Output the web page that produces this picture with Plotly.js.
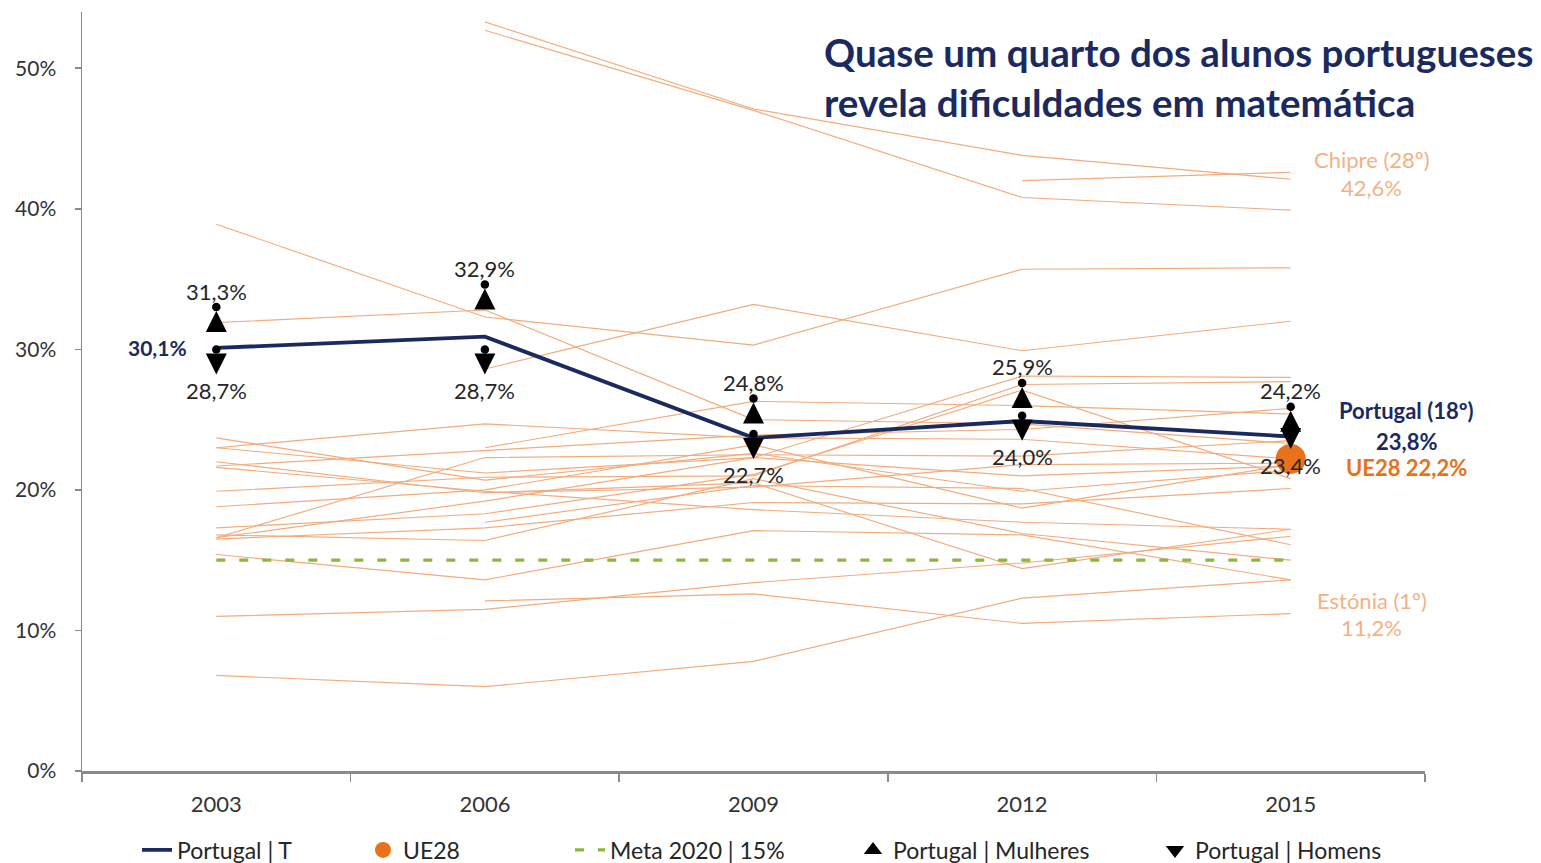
<!DOCTYPE html>
<html><head><meta charset="utf-8">
<script src="https://cdn.plot.ly/plotly-3.0.1.min.js"></script>
<style>html,body{margin:0;padding:0;background:#fff;} #chart{width:1541px;height:863px;}</style>
</head><body><div id="chart"></div>
<script>
// ---- data (% of students below level 2 in mathematics) ----
const years = ['2003','2006','2009','2012','2015'];

const austria     = [18.8, 20.0, 23.2, 18.7, 21.8];
const belgium     = [16.5, 17.3, 19.1, 19.0, 20.1];
const bulgaria    = [null, 53.3, 47.1, 43.8, 42.1];
const croatia     = [null, 28.6, 33.2, 29.9, 32.0];
const cyprus      = [null, null, null, 42.0, 42.6];
const czechia     = [16.6, 19.2, 22.3, 21.0, 21.7];
const denmark     = [15.4, 13.6, 17.1, 16.8, 13.6];
const estonia     = [null, 12.1, 12.6, 10.5, 11.2];
const finland     = [6.8, 6.0, 7.8, 12.3, 13.6];
const france      = [16.6, 22.3, 22.5, 22.4, 23.5];
const germany     = [21.6, 19.9, 18.6, 17.7, 17.2];
const greece      = [38.9, 32.3, 30.3, 35.7, 35.8];
const hungary     = [23.0, 21.2, 22.3, 28.1, 28.0];
const ireland     = [16.8, 16.4, 20.8, 16.9, 15.0];
const italy       = [31.9, 32.8, 25.0, 24.7, 23.3];
const latvia      = [23.7, 20.7, 22.6, 19.9, 21.4];
const lithuania   = [null, 23.0, 26.3, 26.0, 25.4];
const luxembourg  = [21.7, 22.8, 23.9, 24.3, 25.8];
const netherlands = [11.0, 11.5, 13.4, 14.8, 16.7];
const poland      = [22.0, 19.8, 20.5, 14.4, 17.2];
const romania     = [null, 52.7, 47.0, 40.8, 39.9];
const slovakia    = [19.9, 20.9, 21.0, 27.5, 27.7];
const slovenia    = [null, 17.7, 20.3, 20.1, 16.1];
const spain       = [23.0, 24.7, 23.7, 23.6, 22.2];
const sweden      = [17.3, 18.3, 21.1, 27.1, 20.8];
const unitedKingdom = [null, 19.8, 20.2, 21.8, 21.9];

const portugalTotal = [30.1, 30.9, 23.7, 24.9, 23.8];
const portugalWomen = [31.3, 32.9, 24.8, 25.9, 24.2];
const portugalMen   = [28.7, 28.7, 22.7, 24.0, 23.4];
const ue28          = [null, null, null, null, 22.2];
const meta2020      = [15, 15, 15, 15, 15];

const countryNames = ['Áustria','Bélgica','Bulgária','Croácia','Chipre','Chéquia','Dinamarca','Estónia','Finlândia','França','Alemanha','Grécia','Hungria','Irlanda','Itália','Letónia','Lituânia','Luxemburgo','Países Baixos','Polónia','Roménia','Eslováquia','Eslovénia','Espanha','Suécia','Reino Unido'];
const countrySeries = [austria,belgium,bulgaria,croatia,cyprus,czechia,denmark,estonia,finland,france,germany,greece,hungary,ireland,italy,latvia,lithuania,luxembourg,netherlands,poland,romania,slovakia,slovenia,spain,sweden,unitedKingdom];

const legendLabels = ['Portugal | T','UE28','Meta 2020 | 15%','Portugal | Mulheres','Portugal | Homens'];
const titleLines = ['Quase um quarto dos alunos portugueses','revela dificuldades em matemática'];

// ---- styling ----
const FONT = 'Lato, "Open Sans", sans-serif';
const NAVY = '#1B2A5E';
const ORANGE_LINE = '#F3AB7B';
const ORANGE_LABEL = '#F4B183';
const UE_ORANGE = '#E8711A';
const GREEN = '#8CB63C';
const TXT = '#262626';
const YMAX = 54;
const PLOT_H = 863 - 12 - 92;
const PPU = PLOT_H / YMAX;
function shifted(px){ const d = px / PPU; return [-d, YMAX - d]; }
const fmt = v => v.toFixed(1).replace('.', ',') + '%';

const traces = [];
countrySeries.forEach((s, i) => {
  traces.push({x: years, y: s, name: countryNames[i], type: 'scatter', mode: 'lines',
    line: {color: ORANGE_LINE, width: 1.15}, showlegend: false, hoverinfo: 'skip', connectgaps: false});
});
traces.push({x: years, y: meta2020, name: legendLabels[2], type: 'scatter', mode: 'lines',
  line: {color: GREEN, width: 3.2, dash: '9px,14px'}, legend: 'legend3'});
traces.push({x: years, y: portugalTotal, name: legendLabels[0], type: 'scatter', mode: 'lines',
  line: {color: NAVY, width: 3.8}, legend: 'legend'});
traces.push({x: years, y: ue28, name: legendLabels[1], type: 'scatter', mode: 'markers',
  marker: {color: UE_ORANGE, size: 30}, legend: 'legend2'});
// gender markers: triangle + dot, drawn on overlay axes offset by a few pixels
traces.push({x: years, y: portugalWomen, name: legendLabels[3], type: 'scatter', mode: 'markers', yaxis: 'y2',
  marker: {symbol: 'arrow-up', size: 21, color: '#000'}, showlegend: false});
traces.push({x: years, y: portugalWomen, type: 'scatter', mode: 'markers', yaxis: 'y3', showlegend: false,
  marker: {symbol: 'circle', size: 8.5, color: '#000'}});
traces.push({x: years, y: portugalMen, name: legendLabels[4], type: 'scatter', mode: 'markers', yaxis: 'y4',
  marker: {symbol: 'arrow-down', size: 21, color: '#000'}, showlegend: false});
traces.push({x: years, y: portugalMen, type: 'scatter', mode: 'markers', yaxis: 'y5', showlegend: false,
  marker: {symbol: 'circle', size: 8.5, color: '#000'}});
// legend entries for the gender markers
traces.push({x: [null], y: [null], name: legendLabels[3], type: 'scatter', mode: 'markers',
  marker: {symbol: 'triangle-up', size: 16, color: '#000'}, legend: 'legend4'});
traces.push({x: [null], y: [null], name: legendLabels[4], type: 'scatter', mode: 'markers',
  marker: {symbol: 'triangle-down', size: 16, color: '#000'}, legend: 'legend5'});

// annotations on a category axis take the category index
const ann = [];
ann.push({xref: 'paper', yref: 'paper', x: 0.551, y: 0.947, xanchor: 'left', yanchor: 'middle', showarrow: false,
  text: '<b>' + titleLines[0] + '</b>', font: {family: FONT, size: 38.6, color: NAVY}});
ann.push({xref: 'paper', yref: 'paper', x: 0.551, y: 0.881, xanchor: 'left', yanchor: 'middle', showarrow: false,
  text: '<b>' + titleLines[1] + '</b>', font: {family: FONT, size: 38.6, color: NAVY}});
years.forEach((yr, i) => {
  ann.push({x: i, y: portugalWomen[i], xref: 'x', yref: 'y', text: fmt(portugalWomen[i]), showarrow: false,
    yshift: 40, font: {family: FONT, size: 22, color: TXT}});
  ann.push({x: i, y: portugalMen[i], xref: 'x', yref: 'y', text: fmt(portugalMen[i]), showarrow: false,
    yshift: -23, font: {family: FONT, size: 22, color: TXT}});
});
ann.push({x: 0, y: portugalTotal[0], text: '<b>' + fmt(portugalTotal[0]) + '</b>', showarrow: false,
  xanchor: 'right', xshift: -27, font: {family: FONT, size: 21, color: NAVY}});
const last = years.length - 1;
ann.push({x: last, y: portugalTotal[last], text: '<b>Portugal (18º)</b>', showarrow: false,
  xshift: 116, yshift: 26, font: {family: FONT, size: 22, color: NAVY}});
ann.push({x: last, y: portugalTotal[last], text: '<b>' + fmt(portugalTotal[last]) + '</b>', showarrow: false,
  xshift: 116, yshift: -5, font: {family: FONT, size: 22, color: NAVY}});
ann.push({x: last, y: ue28[last], text: '<b>UE28 ' + fmt(ue28[last]) + '</b>', showarrow: false,
  xshift: 116, yshift: -9, font: {family: FONT, size: 22, color: UE_ORANGE}});
ann.push({x: last, y: cyprus[last], text: 'Chipre (28º)', showarrow: false,
  xshift: 81, yshift: 13, font: {family: FONT, size: 22, color: ORANGE_LABEL}});
ann.push({x: last, y: cyprus[last], text: fmt(cyprus[last]), showarrow: false,
  xshift: 81, yshift: -15, font: {family: FONT, size: 22, color: ORANGE_LABEL}});
ann.push({x: last, y: estonia[last], text: 'Estónia (1º)', showarrow: false,
  xshift: 81, yshift: 13, font: {family: FONT, size: 22, color: ORANGE_LABEL}});
ann.push({x: last, y: estonia[last], text: fmt(estonia[last]), showarrow: false,
  xshift: 81, yshift: -14, font: {family: FONT, size: 22, color: ORANGE_LABEL}});

const legBase = {orientation: 'h', y: -0.104, yanchor: 'middle', xanchor: 'left', bgcolor: 'rgba(0,0,0,0)',
  font: {family: FONT, size: 23, color: TXT}};
const PW = 1541 - 82 - 116;
const lx = px => (px - 82) / PW;

const layout = {
  width: 1541, height: 863,
  margin: {l: 82, r: 116, t: 12, b: 92, autoexpand: false},
  paper_bgcolor: '#fff', plot_bgcolor: '#fff',
  separators: ',.',
  font: {family: FONT, color: TXT},
  showlegend: true,
  xaxis: {type: 'category', range: [-0.5, years.length - 0.5], autorange: false,
    tickson: 'boundaries', ticks: 'outside', ticklen: 8, tickwidth: 1.5, tickcolor: '#8a8a8a',
    showline: true, linewidth: 3, linecolor: '#8a8a8a', showgrid: false, zeroline: false,
    tickfont: {family: FONT, size: 22, color: '#333'}, ticklabelstandoff: 12, fixedrange: true},
  yaxis: {range: [0, YMAX], autorange: false, dtick: 10, ticksuffix: '%', ticks: 'outside', ticklen: 6, tickwidth: 1.5, tickcolor: '#8a8a8a',
    showline: true, linewidth: 1.5, linecolor: '#8a8a8a', showgrid: false, zeroline: false,
    tickfont: {family: FONT, size: 21, color: '#333'}, ticklabelstandoff: 14, fixedrange: true},
  yaxis2: {overlaying: 'y', range: shifted(20), autorange: false, visible: false, fixedrange: true},
  yaxis3: {overlaying: 'y', range: shifted(24), autorange: false, visible: false, fixedrange: true},
  yaxis4: {overlaying: 'y', range: shifted(-7), autorange: false, visible: false, fixedrange: true},
  yaxis5: {overlaying: 'y', range: shifted(18), autorange: false, visible: false, fixedrange: true},
  legend:  Object.assign({}, legBase, {x: lx(137)}),
  legend2: Object.assign({}, legBase, {x: lx(363)}),
  legend3: Object.assign({}, legBase, {x: lx(570)}),
  legend4: Object.assign({}, legBase, {x: lx(853)}),
  legend5: Object.assign({}, legBase, {x: lx(1155)}),
  annotations: ann
};

Plotly.newPlot('chart', traces, layout, {displayModeBar: false, staticPlot: true});
</script>
</body></html>
